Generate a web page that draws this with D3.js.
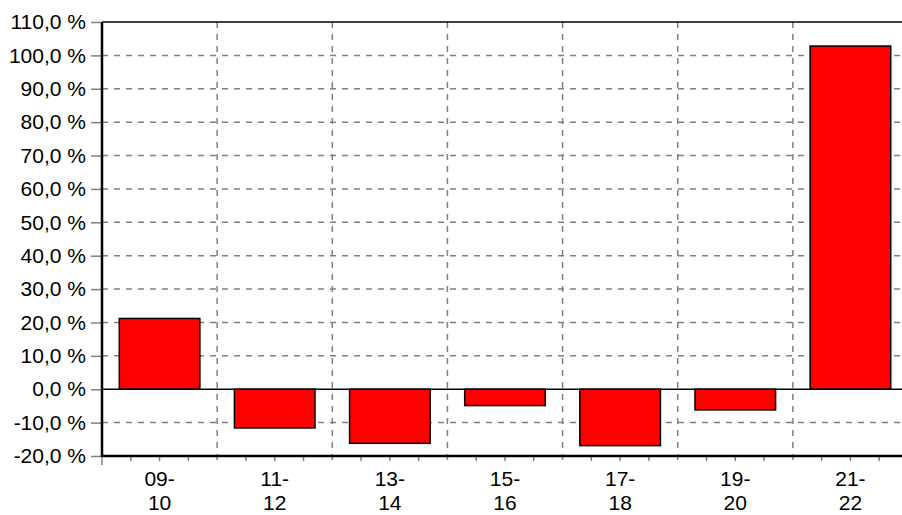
<!DOCTYPE html>
<html><head><meta charset="utf-8">
<script src="https://cdn.jsdelivr.net/npm/d3@7"></script>
<style>body{margin:0;background:#fff}svg{display:block}</style>
</head><body>
<svg id="c" width="902" height="515"></svg>
<script>
const categories = [["09-","10"],["11-","12"],["13-","14"],["15-","16"],["17-","18"],["19-","20"],["21-","22"]];
const values = [21.2, -11.6, -16.2, -4.9, -16.9, -6.2, 102.8];
const yTicks = [-20,-10,0,10,20,30,40,50,60,70,80,90,100,110];

const svg = d3.select("#c");
const L = 102, R = 908, T = 22, B = 456;
const x = d3.scaleBand().domain(d3.range(categories.length)).range([L, R]).paddingInner(0).paddingOuter(0);
const y = d3.scaleLinear().domain([-20, 110]).range([B, T]);
const fmt = v => v.toFixed(1).replace(".", ",") + " %";
const grid = "#808080";
const FONT = "Liberation Sans, Arial, sans-serif";

// horizontal gridlines
svg.append("g").selectAll("line").data(yTicks.filter(v => v !== -20 && v !== 110 && v !== 0)).join("line")
  .attr("x1", L).attr("x2", 902).attr("y1", d => y(d)).attr("y2", d => y(d))
  .attr("stroke", grid).attr("stroke-width", 1.5).attr("stroke-dasharray", "6,6");
// vertical gridlines (category boundaries)
const bounds = d3.range(1, categories.length).map(i => x(i));
svg.append("g").selectAll("line").data(bounds).join("line")
  .attr("x1", d => d).attr("x2", d => d).attr("y1", T).attr("y2", B + 9)
  .attr("stroke", grid).attr("stroke-width", 1.5).attr("stroke-dasharray", "6,6");
svg.append("line").attr("x1", L).attr("x2", L).attr("y1", B).attr("y2", B + 9).attr("stroke", grid).attr("stroke-width", 1.5);
// minor ticks
const minors = [];
d3.range(categories.length).forEach(i => [0.25, 0.5, 0.75].forEach(f => minors.push(x(i) + f * x.bandwidth())));
svg.append("g").selectAll("line").data(minors).join("line")
  .attr("x1", d => d).attr("x2", d => d).attr("y1", B).attr("y2", B + 5)
  .attr("stroke", grid).attr("stroke-width", 1.5);

// y axis ticks
const yAxis = d3.axisLeft(y).tickValues(yTicks).tickFormat(fmt).tickSize(10).tickPadding(5);
const ga = svg.append("g").attr("transform", `translate(${L - 1},0)`).call(yAxis);
ga.select(".domain").remove();
ga.selectAll(".tick line").attr("stroke", grid).attr("stroke-width", 1.5);
ga.selectAll(".tick text").attr("font-family", FONT).attr("font-size", 21).attr("fill", "#000");

// bars
const bw = x.bandwidth() * 0.7;
svg.append("g").selectAll("rect").data(values).join("rect")
  .attr("x", (d, i) => x(i) + (x.bandwidth() - bw) / 2)
  .attr("width", bw)
  .attr("y", d => y(Math.max(0, d)))
  .attr("height", d => Math.abs(y(d) - y(0)))
  .attr("fill", "#ff0000").attr("stroke", "#000").attr("stroke-width", 1.5);

// zero line, top border, axes
svg.append("line").attr("x1", L).attr("x2", 902).attr("y1", y(0)).attr("y2", y(0)).attr("stroke", "#000").attr("stroke-width", 1.5);
svg.append("line").attr("x1", L).attr("x2", 902).attr("y1", T).attr("y2", T).attr("stroke", "#000").attr("stroke-width", 1.5);
svg.append("line").attr("x1", L).attr("x2", 902).attr("y1", B).attr("y2", B).attr("stroke", "#000").attr("stroke-width", 2.5);
svg.append("line").attr("x1", L).attr("x2", L).attr("y1", T).attr("y2", B + 1).attr("stroke", "#000").attr("stroke-width", 2.5);

// x labels
const xl = svg.append("g").selectAll("text").data(categories).join("text")
  .attr("text-anchor", "middle")
  .attr("font-family", FONT).attr("font-size", 21).attr("fill", "#000");
xl.append("tspan").attr("x", (d, i) => x(i) + x.bandwidth() / 2).attr("y", 486).text(d => d[0]);
xl.append("tspan").attr("x", (d, i) => x(i) + x.bandwidth() / 2).attr("y", 510).text(d => d[1]);
</script>
</body></html>
